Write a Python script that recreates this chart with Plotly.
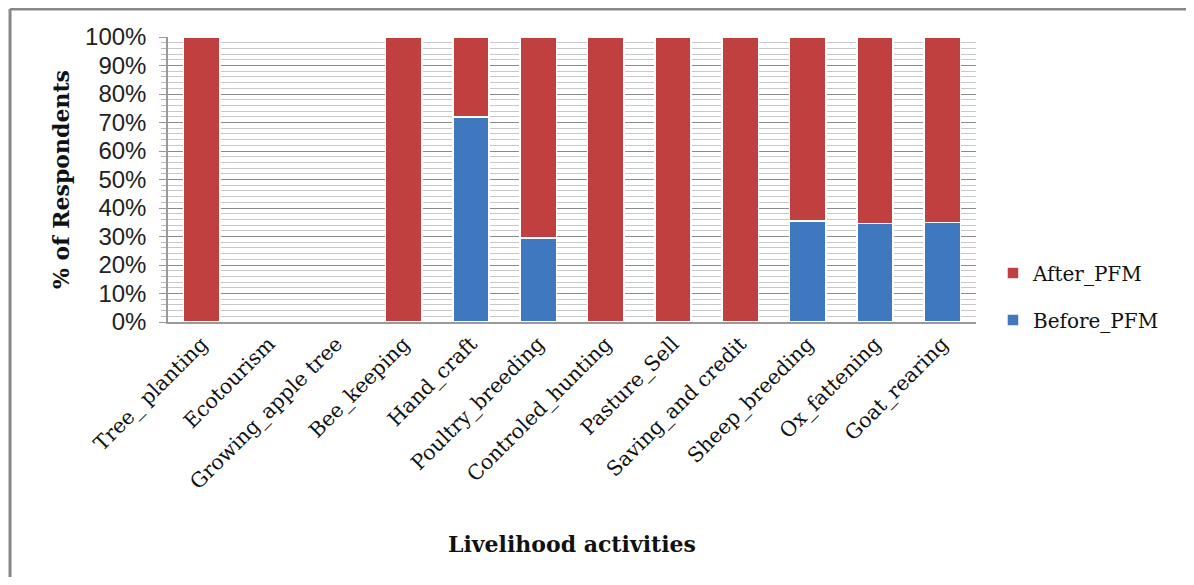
import plotly.graph_objects as go

activities = ["Tree_ planting", "Ecotourism", "Growing_apple tree", "Bee_keeping",
              "Hand_craft", "Poultry_breeding", "Controled_hunting", "Pasture_Sell",
              "Saving_and credit", "Sheep_breeding", "Ox_fattening", "Goat_rearing"]
before_pfm = [0, 0, 0, 0, 72, 29.5, 0, 0, 0, 35.5, 34.5, 35]
after_pfm = [100, 0, 0, 100, 28, 70.5, 100, 100, 100, 64.5, 65.5, 65]
y_ticks = list(range(0, 101, 10))

serif = "DejaVu Serif"
sans = "Liberation Sans"

fig = go.Figure()

fig.add_trace(go.Bar(
    x=activities, y=before_pfm, name="Before_PFM",
    marker=dict(color="#3F78BE", line=dict(color="white", width=1.5)),
    legendgroup="before", legendrank=2,
))
fig.add_trace(go.Bar(
    x=activities, y=after_pfm, name="After_PFM",
    marker=dict(color="#C0403F", line=dict(color="white", width=1.5)),
    legendgroup="after", legendrank=1,
))

# page has an 8px body margin, so the figure is sized to fit inside it
fig.update_layout(
    barmode="stack",
    bargap=0.46,
    width=1178, height=569,
    paper_bgcolor="white",
    plot_bgcolor="white",
    margin=dict(l=160, r=210, t=29, b=255),
    legend=dict(
        x=1.021, y=0.24, xanchor="left", yanchor="top",
        traceorder="grouped", tracegroupgap=18,
        font=dict(family=serif, size=20, color="#111"),
        itemwidth=30,
    ),
    xaxis=dict(
        tickangle=-45,
        tickfont=dict(family=serif, size=20.5, color="#111"),
        showline=True, linecolor="#999", linewidth=1.5,
        showgrid=False,
    ),
    yaxis=dict(
        range=[0, 100],
        tickvals=y_ticks,
        ticktext=[f"{v}%" for v in y_ticks],
        tickfont=dict(family=sans, size=24, color="#222"),
        ticklabelstandoff=8,
        showline=True, linecolor="#999", linewidth=1.5,
        ticks="outside", ticklen=7, tickcolor="#999",
        gridcolor="#8a8a8a", gridwidth=1,
        minor=dict(dtick=2, showgrid=True, gridcolor="#c8c8c8", gridwidth=1,
                   ticks="outside", ticklen=5, tickcolor="#bbb"),
        zeroline=False,
    ),
    annotations=[
        dict(text="<b>Livelihood activities</b>", xref="paper", yref="paper",
             x=0.5, y=-0.78, xanchor="center", yanchor="middle", showarrow=False,
             font=dict(family=serif, size=22, color="#111")),
        dict(text="<b>% of Respondents</b>", xref="paper", yref="paper",
             x=-0.133, y=0.5, xanchor="center", yanchor="middle", showarrow=False,
             textangle=-90, font=dict(family=serif, size=22, color="#111")),
    ],
    shapes=[
        dict(type="line", xref="paper", yref="paper",
             x0=-0.1955, x1=-0.1955, y0=-0.9, y1=1.098,
             line=dict(color="#888", width=3)),
        dict(type="line", xref="paper", yref="paper",
             x0=-0.1955, x1=1.27, y0=1.098, y1=1.098,
             line=dict(color="#888", width=3)),
    ],
)

fig.write_html("out.html")
